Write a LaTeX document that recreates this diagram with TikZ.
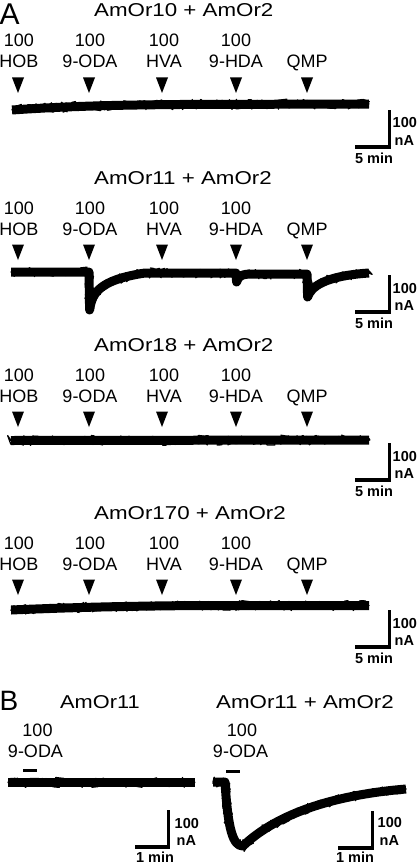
\documentclass[tikz,border=0pt]{standalone}
\usepackage{fontspec}
\setmainfont{Liberation Sans}
\usetikzlibrary{decorations.pathmorphing}
\tikzset{
  lbl/.style={font=\fontsize{18}{18}\selectfont, anchor=base, inner sep=0pt},
  ttl/.style={font=\fontsize{18.6}{19}\selectfont, anchor=base west, inner sep=0pt},
  letter/.style={anchor=base west, inner sep=0pt},
  sbt/.style={font=\fontsize{14.5}{15}\selectfont\bfseries, inner sep=0pt},
  sbar/.style={line width=3.4pt, line join=miter},
  appbar/.style={line width=3.6pt},
  trace/.style={line width=9pt, line join=round},
  noise/.style={line width=1.3pt, line join=round, line cap=round, decorate, decoration={random steps, segment length=1.5pt, amplitude=5pt}},
  tip/.style={fill=black}
}
\newcommand\mytrace[1]{\draw[trace] #1; \draw[noise] #1;}
\newcommand\mypanel[4]{%
  \node[ttl] (t#1) at (94,{17+#3}) {\scalebox{1.2}[1]{#2}};
  \foreach \xx/\ax/\nm [count=\k] in {19/18/HOB, 90/89/9-ODA, 164/162/HVA, 236/236/9-HDA} {
    \node[lbl] (c#1\k) at (\xx,{47+#3}) {100};
    \node[lbl] (n#1\k) at (\xx,{68+#3}) {\nm};
    \fill[tip] ({\ax-6},{77.5+#3}) -- ({\ax+6},{77.5+#3}) -- (\ax,{93+#3}) -- cycle;
  }
  \node[lbl] (n#15) at (307,{68+#3}) {QMP};
  \fill[tip] (301,{77.5+#3}) -- (313,{77.5+#3}) -- (307,{93+#3}) -- cycle;
  \coordinate (sh#1) at (355,{147+#4});
  \coordinate (sc#1) at (389.5,{147+#4});
  \coordinate (sv#1) at (389.5,{110+#4});
  \draw[sbar] (sh#1) -- (sc#1) -- (sv#1);
  \node[sbt, anchor=base west] (s1#1) at (392.5,{128+#4}) {100};
  \node[sbt, anchor=base west] (s2#1) at (394.5,{145+#4}) {nA};
  \node[sbt, anchor=base] (s3#1) at (374,{163.5+#4}) {5 min};
}
\begin{document}
\begin{tikzpicture}[x=1pt,y=-1pt]
\useasboundingbox (0,0) rectangle (416,864);
\pgfmathsetseed{7}
\node[letter, font=\fontsize{30}{30}\selectfont] (A) at (-0.5,25) {A};
\mypanel{a}{AmOr10 + AmOr2}{0}{0}
\mypanel{b}{AmOr11 + AmOr2}{167}{165}
\mypanel{c}{AmOr18 + AmOr2}{334}{333}
\mypanel{d}{AmOr170 + AmOr2}{502}{500}
% traces panel A
\mytrace{(12,110) .. controls (70,106) and (120,105) .. (180,104.5) -- (369,104)}
\mytrace{(11,272) -- (89,272) -- (89.6,310) .. controls (92,293) and (99,280) .. (145,273) -- (236,273) -- (236.6,282) .. controls (238,276) and (242,274) .. (252,274) -- (307,274) -- (307.6,297) .. controls (311,287) and (324,276) .. (369,273)}
\mytrace{(11,440.5) -- (369,440)}
\mytrace{(11,610) .. controls (80,607) and (140,606) .. (200,605.5) -- (369,605.5)}
% panel B
\node[letter, font=\fontsize{28}{28}\selectfont] (B) at (-0.5,710) {B};
\node[ttl] (tB1) at (60,708) {\scalebox{1.17}[1]{AmOr11}};
\node[ttl] (tB2) at (216,708) {\scalebox{1.2}[1]{AmOr11 + AmOr2}};
\node[lbl] (cB1) at (37.5,736) {100};
\node[lbl] (nB1) at (35.5,757) {9-ODA};
\node[lbl] (cB2) at (242,736) {100};
\node[lbl] (nB2) at (240.5,757) {9-ODA};
\coordinate (bl1) at (23,770.5); \coordinate (bl2) at (36.5,770.5);
\coordinate (br1) at (226,771.5); \coordinate (br2) at (240,771.5);
\draw[appbar] (bl1) -- (bl2);
\draw[appbar] (br1) -- (br2);
\mytrace{(8,782.5) -- (195,782.5)}
\mytrace{(213,782) -- (225,782) .. controls (228,830) and (233,846) .. (243,846) .. controls (265,825) and (310,797) .. (406,789)}
% scale bars B
\coordinate (lh) at (135,847); \coordinate (lc) at (168.5,847); \coordinate (lv) at (168.5,810);
\draw[sbar] (lh) -- (lc) -- (lv);
\node[sbt, anchor=base west] (l1) at (174.5,828) {100};
\node[sbt, anchor=base west] (l2) at (176.5,845) {nA};
\node[sbt, anchor=base] (l3) at (155,862.5) {1 min};
\coordinate (rh) at (338,848); \coordinate (rc) at (372.5,848); \coordinate (rv) at (372.5,811);
\draw[sbar] (rh) -- (rc) -- (rv);
\node[sbt, anchor=base west] (r1) at (377.5,827.5) {100};
\node[sbt, anchor=base west] (r2) at (379.5,845) {nA};
\node[sbt, anchor=base] (r3) at (355,862.5) {1 min};
\end{tikzpicture}
\end{document}
